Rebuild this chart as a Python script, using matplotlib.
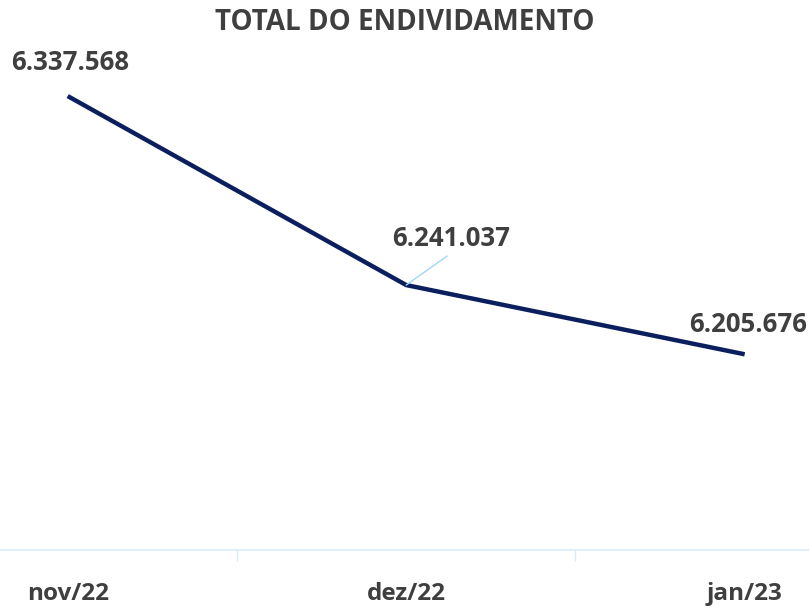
import matplotlib
matplotlib.use('Agg')
import matplotlib.pyplot as plt

months = ['nov/22', 'dez/22', 'jan/23']
total = [6337568, 6241037, 6205676]
labels = ['6.337.568', '6.241.037', '6.205.676']

plt.rcParams['font.family'] = ['Open Sans', 'DejaVu Sans']
text_color = '#3f3f3f'

fig = plt.figure(figsize=(8.09, 6.09), dpi=100)
ax = fig.add_axes([0, 59 / 609, 1, 490 / 609])

x = list(range(len(months)))
ax.plot(x, total, color='#0b1f5e', linewidth=3.2, solid_capstyle='butt')

ax.set_xlim(-0.2, 2.19)
ax.set_ylim(6105700, 6356000)

# data labels (offsets in points)
ax.annotate(labels[0], (0, total[0]), xytext=(1.5, 24.5), textcoords='offset points',
            ha='center', va='center', fontsize=18.5, fontweight='bold', color=text_color)
ax.annotate(labels[1], (1, total[1]), xytext=(32.4, 33.8), textcoords='offset points',
            ha='center', va='center', fontsize=18.5, fontweight='bold', color=text_color)
ax.annotate('', (1, total[1]), xytext=(29.5, 20.9), textcoords='offset points',
            arrowprops=dict(arrowstyle='-', color='#9fd8f5', lw=1, shrinkA=0, shrinkB=0))
ax.annotate(labels[2], (2, total[2]), xytext=(2.2, 21.6), textcoords='offset points',
            ha='center', va='center', fontsize=18.5, fontweight='bold', color=text_color)

fig.text(0.5, 1 - 23 / 609, 'TOTAL DO ENDIVIDAMENTO', ha='center', va='center',
         fontsize=20, fontweight='bold', color=text_color)

for s in ['top', 'left', 'right']:
    ax.spines[s].set_visible(False)
ax.spines['bottom'].set_color('#d6ecf9')
ax.spines['bottom'].set_linewidth(1.2)
ax.set_yticks([])

ax.set_xticks(x)
ax.set_xticklabels(months, fontsize=17.5, fontweight='bold', color=text_color)
ax.tick_params(axis='x', which='major', length=0, pad=23)
ax.set_xticks([0.5, 1.5], minor=True)
ax.tick_params(axis='x', which='minor', length=8, color='#d6ecf9', width=1)

fig.savefig('out.png', dpi=100)
